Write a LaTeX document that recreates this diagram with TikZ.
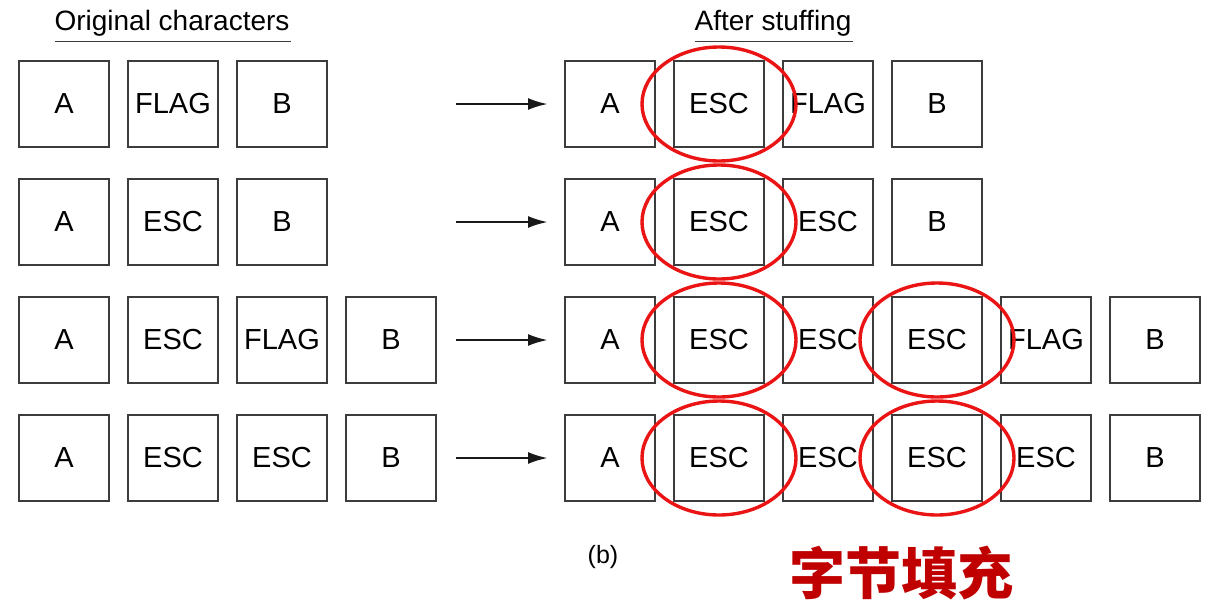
\documentclass[tikz,border=0pt]{standalone}
\usepackage{fontspec}
\setmainfont{Liberation Sans}
\newfontfamily\cjk{Noto Sans CJK SC}
\usepackage{xcolor}
\usetikzlibrary{shapes.geometric, arrows, arrows.meta, positioning}

\definecolor{boxline}{RGB}{60,60,60}
\definecolor{ringred}{RGB}{235,20,20}
\definecolor{titlered}{RGB}{192,0,0}

\begin{document}
\begin{tikzpicture}[
    x=1pt, y=-1pt,
    node distance=19pt,
    charbox/.style={rectangle, draw=boxline, line width=1.6pt, fill=white, minimum width=90pt, minimum height=86pt, inner sep=0pt, outer sep=0pt, font=\fontsize{29}{32}\selectfont},
    heading/.style={font=\fontsize{28}{30}\selectfont, inner sep=3pt},
    ring/.style={ellipse, draw=ringred, line width=3.4pt, minimum width=154pt, minimum height=114pt, inner sep=0pt},
    arrow/.style={-{Latex[length=20pt, width=12pt]}, line width=2.6pt, draw=black!90}
]
\useasboundingbox (0,0) rectangle (1211,606);

% headings
\node[heading] (orig) at (172,23) {Original characters};
\node[heading] (after) at (773,23) {After stuffing};
\draw[line width=1.5pt, boxline] ([xshift=4pt, yshift=-2pt]orig.south west) -- ([xshift=-2pt, yshift=-2pt]orig.south east);
\draw[line width=1.5pt, boxline] ([xshift=4pt, yshift=-2pt]after.south west) -- ([xshift=-2pt, yshift=-2pt]after.south east);

% row 1
\node[charbox] (l1a) at (64,104) {A};
\node[charbox, right=of l1a] (l1b) {FLAG};
\node[charbox, right=of l1b] (l1c) {B};
\node[charbox] (r1a) at (610,104) {A};
\node[charbox, right=of r1a] (r1b) {ESC};
\node[charbox, right=of r1b] (r1c) {FLAG};
\node[charbox, right=of r1c] (r1d) {B};

% row 2
\node[charbox] (l2a) at (64,222) {A};
\node[charbox, right=of l2a] (l2b) {ESC};
\node[charbox, right=of l2b] (l2c) {B};
\node[charbox] (r2a) at (610,222) {A};
\node[charbox, right=of r2a] (r2b) {ESC};
\node[charbox, right=of r2b] (r2c) {ESC};
\node[charbox, right=of r2c] (r2d) {B};

% row 3
\node[charbox] (l3a) at (64,340) {A};
\node[charbox, right=of l3a] (l3b) {ESC};
\node[charbox, right=of l3b] (l3c) {FLAG};
\node[charbox, right=of l3c] (l3d) {B};
\node[charbox] (r3a) at (610,340) {A};
\node[charbox, right=of r3a] (r3b) {ESC};
\node[charbox, right=of r3b] (r3c) {ESC};
\node[charbox, right=of r3c] (r3d) {ESC};
\node[charbox, right=of r3d] (r3e) {FLAG};
\node[charbox, right=of r3e] (r3f) {B};

% row 4
\node[charbox] (l4a) at (64,458) {A};
\node[charbox, right=of l4a] (l4b) {ESC};
\node[charbox, right=of l4b] (l4c) {ESC};
\node[charbox, right=of l4c] (l4d) {B};
\node[charbox] (r4a) at (610,458) {A};
\node[charbox, right=of r4a] (r4b) {ESC};
\node[charbox, right=of r4b] (r4c) {ESC};
\node[charbox, right=of r4c] (r4d) {ESC};
\node[charbox, right=of r4d] (r4e) {ESC};
\node[charbox, right=of r4e] (r4f) {B};

% arrows
\coordinate (s1) at (456,104); \coordinate (e1) at (548,104);
\coordinate (s2) at (456,222); \coordinate (e2) at (548,222);
\coordinate (s3) at (456,340); \coordinate (e3) at (548,340);
\coordinate (s4) at (456,458); \coordinate (e4) at (548,458);
\draw[arrow] (s1) -- (e1);
\draw[arrow] (s2) -- (e2);
\draw[arrow] (s3) -- (e3);
\draw[arrow] (s4) -- (e4);

% stuffed escapes
\node[ring] (o1) at (r1b) {};
\node[ring] (o2) at (r2b) {};
\node[ring] (o3) at (r3b) {};
\node[ring] (o4) at (r3d) {};
\node[ring] (o5) at (r4b) {};
\node[ring] (o6) at (r4d) {};

% captions
\node[font=\fontsize{25}{28}\selectfont] (cap) at (603,557) {(b)};
\node[font=\cjk\bfseries\fontsize{56}{60}\selectfont, text=titlered] (title) at (901,573) {字节填充};

\end{tikzpicture}
\end{document}
